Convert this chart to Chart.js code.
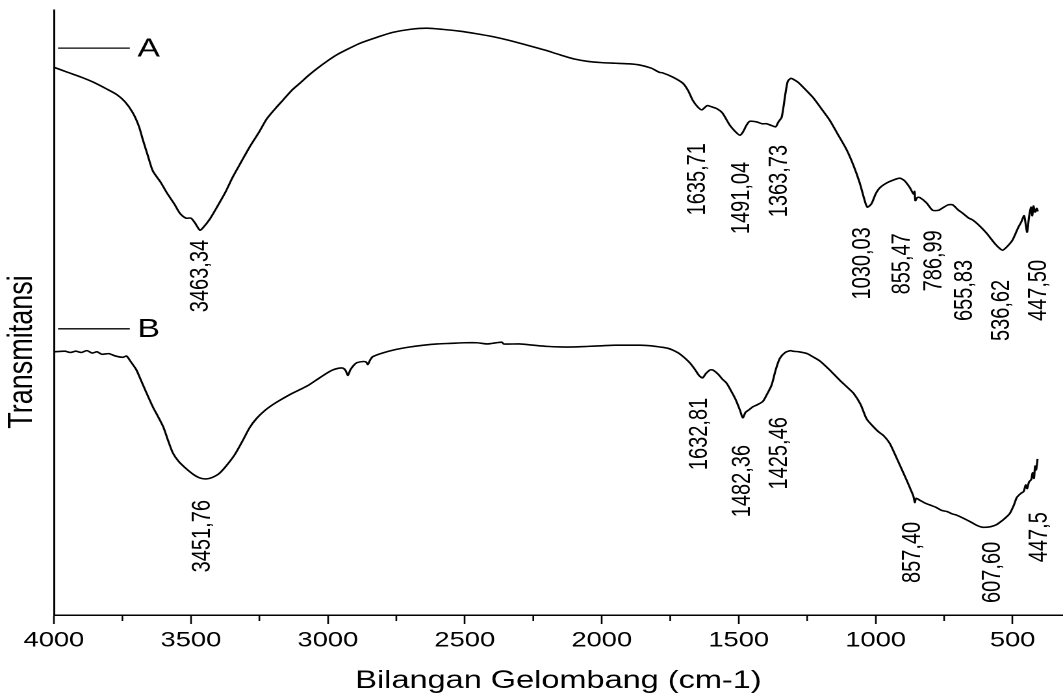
<!DOCTYPE html>
<html>
<head>
<meta charset="utf-8">
<title>Spektrum FTIR</title>
<script src="https://cdn.jsdelivr.net/npm/chart.js@4.4.1/dist/chart.umd.min.js"></script>
<style>
  html, body { margin: 0; padding: 0; background: #fff; overflow: hidden; }
</style>
</head>
<body>
<!-- drawn at 818px wide and stretched to 1063px, like the original figure -->
<canvas id="chart" width="818" height="700" style="width:1063px;height:700px;display:block"></canvas>
<script>
// x axis ticks
const majorTicks = [4000, 3500, 3000, 2500, 2000, 1500, 1000, 500];
const minorTicks = [3750, 3250, 2750, 2250, 1750, 1250, 750];

// spectrum A
const wavenumberA = [3998, 3950, 3900, 3858, 3810, 3770, 3740, 3712, 3690, 3675, 3655, 3639, 3610, 3588, 3560, 3540,
  3518, 3500, 3485, 3467, 3456, 3430, 3405, 3375, 3347, 3315, 3285, 3250, 3223, 3190, 3164, 3130, 3102, 3070, 3040,
  3004, 2967, 2920, 2883, 2820, 2763, 2700, 2639, 2580, 2518, 2460, 2398, 2340, 2274, 2210, 2153, 2100, 2050, 2000,
  1950, 1900, 1861, 1820, 1790, 1777, 1740, 1704, 1685, 1668, 1650, 1635, 1615, 1599, 1580, 1560, 1533, 1510, 1496,
  1485, 1471, 1460, 1434, 1415, 1398, 1380, 1365, 1355, 1343, 1330, 1321, 1310, 1303, 1285, 1266, 1230, 1200, 1168,
  1140, 1106, 1080, 1058, 1040, 1030, 1015, 1000, 985, 960, 935, 912, 895, 876, 862, 858, 855, 848, 839, 814, 792,
  770, 755, 735, 719, 700, 682, 660, 646, 620, 595, 565, 545, 536, 520, 500, 480, 468, 458, 452, 447, 440, 433, 428,
  424, 418, 412, 408];
const transA = [90.5, 89.7, 88.9, 88.1, 87.0, 86.0, 84.8, 83.0, 80.8, 78.5, 75.6, 73.4, 71.5, 69.8, 67.9, 66.4,
  65.6, 65.6, 64.8, 63.6, 64.0, 65.5, 67.4, 69.8, 72.4, 75.0, 77.4, 79.9, 82.0, 83.8, 85.1, 86.8, 87.9, 89.2, 90.3,
  91.5, 92.6, 93.7, 94.5, 95.5, 96.3, 96.8, 97.0, 96.8, 96.5, 96.1, 95.6, 95.0, 94.2, 93.4, 92.6, 91.9, 91.5, 91.3,
  91.2, 91.1, 90.9, 90.4, 89.7, 89.6, 88.9, 87.9, 86.7, 85.1, 84.0, 83.5, 84.2, 84.0, 83.7, 83.0, 81.0, 79.8, 79.3,
  79.8, 81.0, 81.6, 81.5, 81.2, 81.2, 80.9, 80.7, 81.5, 82.3, 86.0, 88.2, 88.7, 88.6, 88.1, 87.3, 85.6, 83.8, 81.8,
  79.6, 76.9, 74.2, 71.4, 68.5, 67.4, 68.0, 69.6, 70.6, 71.4, 71.9, 72.2, 71.8, 70.7, 69.6, 70.0, 68.5, 69.0, 69.0, 68.1, 66.9,
  66.9, 67.3, 67.8, 67.8, 67.0, 66.4, 65.6, 65.3, 64.3, 63.1, 61.4, 60.5, 60.3, 60.9, 62.0, 64.0, 65.0, 66.0, 64.5, 63.3, 65.8, 67.4, 66.0,
  67.6, 66.6, 67.2, 66.7];

// spectrum B
const wavenumberB = [3998, 3960, 3940, 3920, 3900, 3880, 3860, 3843, 3825, 3800, 3775, 3748, 3735, 3720, 3700, 3686,
  3665, 3639, 3620, 3600, 3583, 3566, 3545, 3520, 3490, 3470, 3451, 3430, 3410, 3394, 3370, 3340, 3310, 3285, 3260,
  3230, 3200, 3175, 3140, 3100, 3070, 3040, 3010, 2982, 2960, 2945, 2935, 2927, 2918, 2905, 2894, 2870, 2860, 2854,
  2845, 2836, 2800, 2750, 2701, 2650, 2600, 2550, 2500, 2456, 2420, 2400, 2365, 2358, 2300, 2250, 2200, 2153, 2100,
  2050, 2000, 1950, 1900, 1861, 1820, 1788, 1760, 1741, 1720, 1700, 1679, 1660, 1645, 1632, 1620, 1605, 1595, 1575,
  1560, 1544, 1525, 1510, 1495, 1485, 1475, 1460, 1449, 1430, 1412, 1400, 1380, 1365, 1350, 1330, 1310, 1303, 1280,
  1250, 1230, 1204, 1170, 1131, 1105, 1080, 1055, 1033, 1010, 990, 970, 949, 930, 910, 887, 870, 862, 857, 852, 840,
  820, 803, 780, 760, 740, 720, 704, 680, 650, 630, 609, 580, 560, 547, 530, 510, 495, 485, 470, 460, 452, 447, 440,
  432, 427, 422, 418, 414, 409];
const transB = [43.5, 43.6, 43.4, 43.6, 43.4, 43.7, 43.3, 43.5, 43.1, 43.2, 42.8, 42.6, 42.8, 41.9, 40.6, 39.2,
  37.0, 34.4, 32.8, 31.0, 28.8, 26.8, 25.4, 24.3, 23.2, 22.7, 22.5, 22.6, 23.0, 23.5, 24.7, 26.5, 28.9, 31.0, 32.5,
  33.8, 34.8, 35.5, 36.4, 37.3, 38.0, 38.9, 39.8, 40.5, 40.8, 40.8, 40.4, 39.6, 40.5, 41.3, 41.7, 41.9, 41.8, 41.4,
  42.2, 42.7, 43.3, 43.9, 44.3, 44.6, 44.8, 44.9, 45.0, 45.0, 44.8, 44.9, 45.1, 44.8, 44.8, 44.6, 44.4, 44.3, 44.3,
  44.4, 44.5, 44.6, 44.6, 44.6, 44.5, 44.3, 44.1, 43.8, 43.3, 42.6, 41.7, 40.6, 39.6, 39.2, 39.9, 40.5, 40.5, 39.8,
  39.0, 38.3, 36.8, 35.5, 33.8, 32.6, 33.5, 34.0, 34.4, 34.8, 35.3, 36.2, 38.0, 40.5, 42.4, 43.4, 43.7, 43.6, 43.5,
  43.2, 42.7, 42.0, 40.6, 38.8, 37.7, 36.6, 34.8, 32.4, 31.2, 30.3, 29.6, 28.4, 26.6, 24.6, 22.3, 20.5, 19.6, 18.6, 19.3, 19.0,
  18.5, 18.2, 17.8, 17.3, 17.1, 16.7, 16.5, 16.0, 15.3, 14.8, 14.5, 14.6, 14.9, 15.3, 15.9, 16.8, 18.2, 19.4, 20.1, 20.4, 21.5, 20.9, 22.0,
  22.4, 23.5, 22.6, 24.6, 24.0, 25.8];

// peak labels: text, wavenumber where the label sits, value at its top end
const peakTextA = ['3463,34', '1635,71', '1491,04', '1363,73', '1030,03', '855,47', '786,99', '655,83', '536,62', '447,50'];
const peakPosA = [3464, 1650, 1489, 1350, 1047, 901, 785, 675, 540, 405];
const peakTopA = [62.0, 78.0, 74.9, 77.7, 64.1, 63.1, 63.6, 58.7, 55.4, 58.7];

const peakTextB = ['3451,76', '1632,81', '1482,36', '1425,46', '857,40', '607,60', '447,5'];
const peakPosB = [3456, 1642, 1485, 1350, 865, 573, 401];
const peakTopB = [19.0, 35.9, 28.1, 32.7, 15.4, 12.1, 17.0];

const FONT = "'Liberation Sans', Arial, sans-serif";

const toPoints = (xs, ys) => xs.map((w, i) => ({ x: w, y: ys[i] }));

// draws the rotated peak labels, the A/B tags, y title and minor ticks
const annotate = {
    id: 'annotate',
    afterDatasetsDraw(chart) {
        const { ctx, chartArea, scales: { x, y } } = chart;
        ctx.save();
        ctx.fillStyle = '#000';
        ctx.strokeStyle = '#000';

        ctx.lineWidth = 1.3;
        minorTicks.forEach(v => {
            const px = x.getPixelForValue(v);
            ctx.beginPath();
            ctx.moveTo(px, chartArea.bottom);
            ctx.lineTo(px, chartArea.bottom + 6);
            ctx.stroke();
        });

        ctx.font = `20px ${FONT}`;
        ctx.textAlign = 'right';
        ctx.textBaseline = 'middle';
        const drawPeaks = (texts, pos, tops) => texts.forEach((t, i) => {
            ctx.save();
            ctx.translate(x.getPixelForValue(pos[i]), y.getPixelForValue(tops[i]));
            ctx.rotate(-Math.PI / 2);
            ctx.fillText(t, 0, 0);
            ctx.restore();
        });
        drawPeaks(peakTextA, peakPosA, peakTopA);
        drawPeaks(peakTextB, peakPosB, peakTopB);

        // series tags
        [['A', 93.7], ['B', 47.3]].forEach(([name, v]) => {
            const py = y.getPixelForValue(v);
            ctx.beginPath();
            ctx.moveTo(x.getPixelForValue(3985), py);
            ctx.lineTo(x.getPixelForValue(3723), py);
            ctx.stroke();
            ctx.font = `26px ${FONT}`;
            ctx.textAlign = 'left';
            ctx.fillText(name, x.getPixelForValue(3695), py + 1);
        });

        // y axis title
        ctx.font = `27px ${FONT}`;
        ctx.textAlign = 'center';
        ctx.save();
        ctx.translate(17, 352);
        ctx.rotate(-Math.PI / 2);
        ctx.fillText('Transmitansi', 0, 0);
        ctx.restore();

        ctx.restore();
    }
};

new Chart(document.getElementById('chart'), {
    type: 'line',
    data: {
        datasets: [
            { label: 'A', data: toPoints(wavenumberA, transA), borderColor: '#000', borderWidth: 1.6, pointRadius: 0, tension: 0.25, fill: false },
            { label: 'B', data: toPoints(wavenumberB, transB), borderColor: '#000', borderWidth: 1.6, pointRadius: 0, tension: 0.25, fill: false }
        ]
    },
    options: {
        responsive: false,
        devicePixelRatio: 2,
        animation: false,
        layout: { padding: { top: 10, bottom: 4, left: 0, right: 0 } },
        plugins: {
            legend: { display: false },
            tooltip: { enabled: false }
        },
        scales: {
            x: {
                type: 'linear',
                reverse: true,
                min: 316,
                max: 4000,
                afterBuildTicks: s => {
                    s.ticks = majorTicks.concat(minorTicks).sort((a, b) => b - a).map(v => ({ value: v }));
                },
                afterFit: s => { s.height = 81; },
                ticks: {
                    autoSkip: false,
                    maxRotation: 0,
                    padding: 4,
                    color: '#000',
                    font: { family: FONT, size: 21 },
                    callback: v => majorTicks.includes(v) ? String(v) : ''
                },
                grid: {
                    display: true,
                    drawOnChartArea: false,
                    drawTicks: true,
                    tickLength: 9,
                    tickWidth: 1.3,
                    tickColor: c => (c.tick && majorTicks.includes(c.tick.value)) ? '#000' : 'rgba(0,0,0,0)'
                },
                border: { display: true, color: '#000', width: 1.5 },
                title: {
                    display: true,
                    text: 'Bilangan Gelombang (cm-1)',
                    color: '#000',
                    font: { family: FONT, size: 25 },
                    padding: { top: 0, bottom: 0 }
                }
            },
            y: {
                min: 0,
                max: 100,
                afterFit: s => { s.width = 41.5; },
                ticks: { display: false },
                grid: { display: false },
                border: { display: true, color: '#000', width: 1.5 }
            }
        }
    },
    plugins: [annotate]
});
</script>
</body>
</html>
